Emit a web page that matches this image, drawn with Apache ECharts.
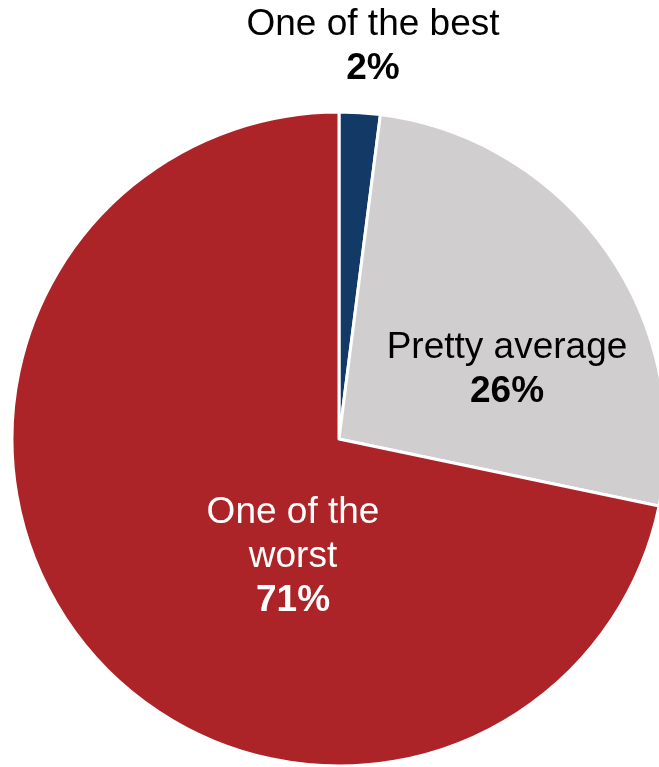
<!DOCTYPE html>
<html><head><meta charset="utf-8">
<script src="https://cdn.jsdelivr.net/npm/echarts@6/dist/echarts.min.js"></script>
<style>html,body{margin:0;padding:0;background:#fff}#c{width:659px;height:767px}</style>
</head><body><div id="c"></div>
<script>
const categories = ["One of the best", "Pretty average", "One of the\nworst"];
const values = [2, 26, 71];
const colors = ["#133A66", "#D0CECE", "#AD2428"];
const labelColors = ["#000", "#000", "#fff"];
const labelPos = [[373, 47], [507, 370], [293, 557]];

const chart = echarts.init(document.getElementById('c'));
chart.setOption({
  animation: false,
  series: [{
    type: 'pie',
    center: [339, 439],
    radius: [0, 327],
    startAngle: 90,
    clockwise: true,
    data: categories.map((c, i) => ({
      name: c, value: values[i],
      itemStyle: {color: colors[i]},
      label: {color: labelColors[i]}
    })),
    itemStyle: {borderColor: '#fff', borderWidth: 3},
    label: {
      show: true,
      position: 'inside',
      fontFamily: 'Liberation Sans, Arial, sans-serif',
      fontSize: 37,
      lineHeight: 44,
      align: 'center',
      formatter: p => p.name + '\n{b|' + p.value + '%}',
      rich: {b: {fontWeight: 'bold', fontSize: 37, lineHeight: 44, fontFamily: 'Liberation Sans, Arial, sans-serif'}}
    },
    labelLine: {show: false},
    labelLayout: p => ({x: labelPos[p.dataIndex][0], y: labelPos[p.dataIndex][1], align: 'center', verticalAlign: 'middle'})
  }]
});
</script></body></html>
